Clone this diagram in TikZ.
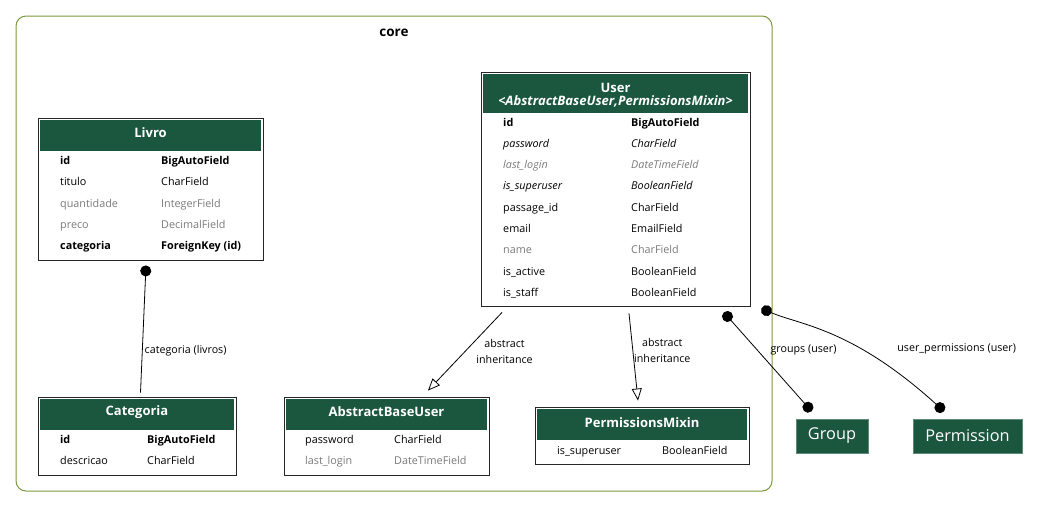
\documentclass[tikz,border=0pt]{standalone}
\usepackage{fontspec}
\setmainfont{Open Sans}
\usetikzlibrary{arrows.meta}

\definecolor{hdrgreen}{HTML}{1B563F}
\definecolor{clustergreen}{HTML}{7A9A3A}
\definecolor{fieldgray}{HTML}{7B7B7B}

\tikzset{
  tbl/.style={draw=black!85, line width=0.9pt, fill=white, inner sep=0pt},
  hdr/.style={fill=hdrgreen},
  hdrtext/.style={text=white, inner sep=0pt, font=\bfseries\fontsize{13}{15}\selectfont},
  fld/.style={anchor=base west, inner sep=0pt, font=\fontsize{10.8}{12}\selectfont},
  fkey/.style={font=\bfseries\fontsize{10.8}{12}\selectfont},
  norm/.style={},
  blank/.style={text=fieldgray},
  inh/.style={font=\itshape\fontsize{10.8}{12}\selectfont},
  inhblank/.style={inh, text=fieldgray},
  lbl/.style={inner sep=0pt, align=center, font=\fontsize{10.7}{16}\selectfont},
  rel/.style={black, line width=0.8pt},
  dotline/.style={rel, {Circle[length=11pt]}-{Circle[length=11pt]}},
  tailline/.style={rel, {Circle[length=11pt]}-},
  inhline/.style={rel, -{Triangle[open, length=12pt, width=10pt]}},
  extbox/.style={fill=hdrgreen, draw=hdrgreen!70!white, line width=0.6pt, text=white,
    inner sep=0pt, font=\fontsize{16.3}{18}\selectfont}
}

\begin{document}
\begin{tikzpicture}[x=1pt, y=-1pt]
  \useasboundingbox (0,0) rectangle (1039,507);

  % app cluster
  \draw[clustergreen, line width=1pt, rounded corners=10pt] (16,16) rectangle (772,491);
  \node[font=\bfseries\fontsize{13.5}{15}\selectfont] (core) at (394,33) {core};

  % Livro
  \node[tbl, minimum width=225, minimum height=142] (livro) at (150.5,189) {};
  \fill[hdr] ([shift={(2,2)}]livro.north west) rectangle ([shift={(-2,33)}]livro.north east);
  \node[hdrtext] (livro-t) at (150.5,133) {Livro};
  \foreach \fn/\ft/\st [count=\i] in {id/BigAutoField/fkey, titulo/CharField/norm,
      quantidade/IntegerField/blank, preco/DecimalField/blank, categoria/ForeignKey (id)/fkey} {
    \node[fld, \st] (livro-f\i) at (60,{164.3+21.4*(\i-1)}) {\fn};
    \node[fld, \st] (livro-g\i) at (161,{164.3+21.4*(\i-1)}) {\ft};
  }

  % User
  \node[tbl, minimum width=269, minimum height=234] (user) at (615.5,189) {};
  \fill[hdr] ([shift={(2,2)}]user.north west) rectangle ([shift={(-2,41)}]user.north east);
  \node[hdrtext] (user-t) at (615.5,87.5) {User};
  \node[hdrtext, font=\bfseries\itshape\fontsize{13}{15}\selectfont] (user-s) at (615.5,101.5) {<AbstractBaseUser,PermissionsMixin>};
  \foreach \fn/\ft/\st [count=\i] in {id/BigAutoField/fkey, password/CharField/inh,
      last\_login/DateTimeField/inhblank, is\_superuser/BooleanField/inh,
      passage\_id/CharField/norm, email/EmailField/norm, name/CharField/blank,
      is\_active/BooleanField/norm, is\_staff/BooleanField/norm} {
    \node[fld, \st] (user-f\i) at (503,{126+21.3*(\i-1)}) {\fn};
    \node[fld, \st] (user-g\i) at (631,{126+21.3*(\i-1)}) {\ft};
  }

  % Categoria
  \node[tbl, minimum width=198, minimum height=78] (categoria) at (137,436) {};
  \fill[hdr] ([shift={(2,2)}]categoria.north west) rectangle ([shift={(-2,33)}]categoria.north east);
  \node[hdrtext] (categoria-t) at (137,412) {Categoria};
  \foreach \fn/\ft/\st [count=\i] in {id/BigAutoField/fkey, descricao/CharField/norm} {
    \node[fld, \st] (categoria-f\i) at (60,{443.3+21.4*(\i-1)}) {\fn};
    \node[fld, \st] (categoria-g\i) at (147,{443.3+21.4*(\i-1)}) {\ft};
  }

  % AbstractBaseUser
  \node[tbl, minimum width=205, minimum height=78] (abu) at (386.5,436) {};
  \fill[hdr] ([shift={(2,2)}]abu.north west) rectangle ([shift={(-2,33)}]abu.north east);
  \node[hdrtext] (abu-t) at (386.5,412) {AbstractBaseUser};
  \foreach \fn/\ft/\st [count=\i] in {password/CharField/norm, last\_login/DateTimeField/blank} {
    \node[fld, \st] (abu-f\i) at (305,{443.3+21.4*(\i-1)}) {\fn};
    \node[fld, \st] (abu-g\i) at (394,{443.3+21.4*(\i-1)}) {\ft};
  }

  % PermissionsMixin
  \node[tbl, minimum width=214, minimum height=57] (pm) at (642,435.5) {};
  \fill[hdr] ([shift={(2,2)}]pm.north west) rectangle ([shift={(-2,33)}]pm.north east);
  \node[hdrtext] (pm-t) at (642,423) {PermissionsMixin};
  \node[fld] (pm-f1) at (557,454.3) {is\_superuser};
  \node[fld] (pm-g1) at (662,454.3) {BooleanField};

  % outside the app
  \node[extbox, minimum width=72, minimum height=34] (group) at (832,436) {Group};
  \node[extbox, minimum width=109, minimum height=34] (perm) at (967.5,436) {Permission};

  % relations
  \draw[tailline] ([shift={(-4.5,5)}]livro.south) -- node[lbl, right=2pt, pos=.67] {categoria (livros)} ([shift={(3.5,-4)}]categoria.north);
  \draw[inhline] ([shift={(-113.5,6)}]user.south) -- node[lbl, right=11pt, pos=.5] {abstract\\inheritance} ([shift={(41.5,-6)}]abu.north);
  \draw[inhline] ([shift={(13.5,7)}]user.south) -- node[lbl, right=1pt, pos=.42] {abstract\\inheritance} ([shift={(-4,-6)}]pm.north);
  \draw[dotline] ([shift={(-26.6,5.9)}]user.south east) -- node[lbl, right=13pt, pos=.38] {groups (user)} ([shift={(-20.4,-7.4)}]group.north);
  \draw[dotline] ([shift={(11,2)}]user.south east) .. controls (800,325) and (852,328) .. node[lbl, right=36pt, pos=.65] {user\_permissions (user)} ([shift={(-23.5,-7.4)}]perm.north);
\end{tikzpicture}
\end{document}
